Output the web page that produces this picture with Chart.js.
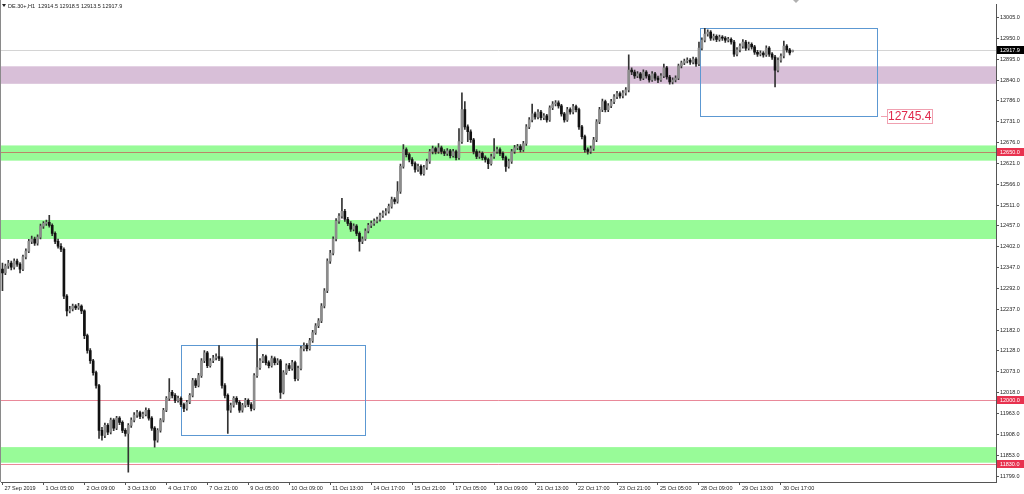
<!DOCTYPE html>
<html>
<head>
<meta charset="utf-8">
<script src="https://cdn.jsdelivr.net/npm/chart.js@4.4.1/dist/chart.umd.min.js"></script>
<style>html,body{margin:0;padding:0;background:#fff;overflow:hidden}canvas{display:block}</style>
</head>
<body>
<canvas id="chart" width="1024" height="494" style="width:1024px;height:494px"></canvas>
<script>
// DE.30+ H1, valori (una candela ogni 2 ore)
const opens = [
12343,12333,12351,12359,12348,12364,12356,12343,12375,12390,
12416,12422,12411,12427,12456,12463,12466,12458,12437,12416,
12403,12395,12272,12233,12238,12246,12241,12246,12233,12168,
12129,12102,12071,12037,11919,11906,11932,11914,11946,11925,
11951,11940,11919,11911,11932,11946,11959,11966,11956,11961,
11972,11951,11925,11893,11919,11946,11972,12003,12019,12011,
11998,12003,11987,11977,11993,12011,12050,12037,12063,12102,
12123,12089,12102,12110,12113,12108,12037,12011,11972,11985,
12003,11993,11972,11985,11998,11987,11977,12063,12084,12102,
12113,12097,12089,12108,12097,12102,12019,12071,12089,12082,
12097,12055,12082,12134,12142,12134,12155,12176,12194,12207,
12246,12286,12364,12385,12422,12469,12482,12495,12474,12463,
12448,12456,12437,12416,12422,12443,12458,12463,12469,12474,
12484,12490,12495,12508,12526,12521,12547,12613,12657,12644,
12631,12620,12605,12613,12594,12610,12626,12652,12660,12652,
12662,12652,12647,12654,12641,12652,12636,12678,12762,12717,
12704,12683,12652,12639,12647,12636,12631,12620,12639,12652,
12657,12647,12636,12613,12626,12652,12662,12665,12657,12673,
12717,12735,12751,12743,12756,12741,12746,12735,12767,12777,
12780,12772,12751,12735,12762,12756,12770,12762,12717,12691,
12657,12652,12660,12683,12730,12762,12783,12762,12772,12783,
12796,12804,12798,12806,12814,12866,12861,12851,12856,12845,
12861,12851,12840,12856,12845,12840,12851,12872,12848,12835,
12840,12845,12877,12885,12890,12892,12887,12895,12882,12924,
12945,12961,12966,12950,12955,12947,12953,12950,12945,12947,
12940,12908,12919,12929,12940,12924,12934,12927,12913,12908,
12911,12906,12924,12908,12900,12866,12892,12903,12929,12919,
12914.5];
const highs = [
12359,12356,12366,12364,12370,12369,12360,12380,12396,12421,
12430,12427,12433,12461,12468,12472,12484,12462,12441,12422,
12410,12399,12276,12245,12251,12250,12253,12249,12236,12172,
12134,12106,12075,12040,11927,11938,11937,11951,11950,11956,
11955,11944,11924,11937,11952,11966,11972,11970,11967,11978,
11976,11955,11929,11924,11950,11977,12008,12055,12024,12016,
12009,12007,11991,11998,12016,12056,12055,12069,12108,12129,
12127,12108,12116,12120,12142,12112,12042,12015,11991,12008,
12008,11997,11990,12003,12002,11992,12068,12160,12108,12119,
12117,12102,12114,12112,12108,12106,12076,12094,12095,12103,
12101,12088,12140,12149,12147,12161,12182,12200,12213,12252,
12292,12370,12392,12428,12476,12489,12529,12500,12479,12468,
12462,12460,12441,12428,12449,12463,12469,12475,12480,12490,
12496,12502,12514,12532,12531,12573,12619,12670,12662,12648,
12636,12625,12619,12617,12616,12632,12658,12666,12664,12673,
12666,12657,12660,12658,12658,12656,12712,12806,12783,12722,
12709,12687,12657,12653,12651,12641,12635,12645,12686,12664,
12662,12651,12640,12632,12658,12668,12671,12670,12679,12723,
12741,12777,12756,12762,12760,12752,12750,12772,12783,12786,
12785,12776,12755,12768,12767,12776,12774,12766,12721,12695,
12662,12666,12689,12736,12768,12790,12787,12778,12789,12802,
12810,12809,12812,12820,12906,12872,12866,12862,12860,12867,
12865,12855,12862,12860,12850,12857,12882,12876,12852,12846,
12851,12882,12890,12895,12898,12896,12900,12899,12940,12951,
12976,12972,12970,12961,12959,12958,12957,12954,12952,12951,
12944,12925,12935,12946,12944,12940,12938,12931,12918,12917,
12915,12930,12928,12912,12905,12898,12909,12942,12933,12923,
12918.5];
const lows = [
12286,12328,12345,12341,12343,12350,12333,12339,12370,12386,
12410,12405,12406,12422,12450,12458,12453,12431,12410,12398,
12389,12265,12220,12228,12233,12236,12237,12226,12160,12122,
12095,12064,12030,11898,11893,11900,11908,11910,11918,11921,
11934,11913,11904,11809,11927,11941,11953,11950,11951,11957,
11946,11919,11875,11888,11914,11941,11968,11998,12004,11992,
11993,11981,11968,11972,11989,12007,12031,12033,12058,12097,
12084,12085,12097,12104,12102,12030,12004,11911,11966,11980,
11987,11966,11967,11980,11981,11970,11973,12058,12079,12097,
12091,12083,12085,12091,12092,12003,12015,12066,12076,12077,
12049,12050,12078,12128,12128,12130,12150,12171,12189,12202,
12241,12281,12358,12380,12417,12463,12477,12468,12457,12442,
12443,12431,12390,12410,12418,12438,12452,12458,12464,12469,
12479,12485,12490,12503,12514,12516,12542,12608,12638,12625,
12614,12598,12600,12590,12590,12605,12621,12646,12646,12647,
12646,12641,12642,12635,12637,12630,12631,12673,12710,12678,
12676,12646,12633,12634,12630,12624,12607,12616,12634,12647,
12641,12630,12600,12608,12621,12647,12657,12651,12652,12668,
12712,12730,12737,12738,12735,12736,12729,12731,12762,12772,
12766,12745,12729,12731,12750,12751,12756,12710,12685,12650,
12645,12647,12655,12678,12725,12757,12756,12757,12767,12778,
12791,12792,12793,12800,12809,12854,12844,12846,12839,12841,
12845,12834,12836,12839,12833,12836,12846,12842,12829,12830,
12835,12841,12872,12880,12885,12881,12882,12876,12878,12919,
12940,12955,12944,12945,12941,12942,12944,12939,12940,12934,
12902,12903,12914,12924,12918,12919,12921,12907,12902,12903,
12900,12902,12902,12894,12822,12861,12887,12898,12913,12906,
12913.5];
const closes = [
12333,12351,12359,12348,12364,12356,12343,12375,12390,12416,
12422,12411,12427,12456,12463,12466,12458,12437,12416,12403,
12395,12272,12233,12238,12246,12241,12246,12233,12168,12129,
12102,12071,12037,11919,11906,11932,11914,11946,11925,11951,
11940,11919,11911,11932,11946,11959,11966,11956,11961,11972,
11951,11925,11893,11919,11946,11972,12003,12019,12011,11998,
12003,11987,11977,11993,12011,12050,12037,12063,12102,12123,
12089,12102,12110,12113,12108,12037,12011,11972,11985,12003,
11993,11972,11985,11998,11987,11977,12063,12084,12102,12113,
12097,12089,12108,12097,12102,12019,12071,12089,12082,12097,
12055,12082,12134,12142,12134,12155,12176,12194,12207,12246,
12286,12364,12385,12422,12469,12482,12495,12474,12463,12448,
12456,12437,12416,12422,12443,12458,12463,12469,12474,12484,
12490,12495,12508,12526,12521,12547,12613,12657,12644,12631,
12620,12605,12613,12594,12610,12626,12652,12660,12652,12662,
12652,12647,12654,12641,12652,12636,12678,12762,12717,12704,
12683,12652,12639,12647,12636,12631,12620,12639,12652,12657,
12647,12636,12613,12626,12652,12662,12665,12657,12673,12717,
12735,12751,12743,12756,12741,12746,12735,12767,12777,12780,
12772,12751,12735,12762,12756,12770,12762,12717,12691,12657,
12652,12660,12683,12730,12762,12783,12762,12772,12783,12796,
12804,12798,12806,12814,12866,12861,12851,12856,12845,12861,
12851,12840,12856,12845,12840,12851,12872,12848,12835,12840,
12845,12877,12885,12890,12892,12887,12895,12882,12924,12945,
12961,12966,12950,12955,12947,12953,12950,12945,12947,12940,
12908,12919,12929,12940,12924,12934,12927,12913,12908,12911,
12906,12924,12908,12900,12866,12892,12903,12929,12919,12911,
12917.9];

// etichette asse tempo (una ogni 14 candele)
const tickLabels = ["27 Sep 2019","1 Oct 05:00","2 Oct 09:00","3 Oct 13:00","4 Oct 17:00","7 Oct 21:00",
  "9 Oct 05:00","10 Oct 09:00","11 Oct 13:00","14 Oct 17:00","15 Oct 21:00","17 Oct 05:00","18 Oct 09:00",
  "21 Oct 13:00","22 Oct 17:00","23 Oct 21:00","25 Oct 05:00","28 Oct 09:00","29 Oct 13:00","30 Oct 17:00"];
const yTicks = [13005,12950,12895,12840,12786,12731,12676,12621,12566,12511,12457,12402,12347,12292,
  12237,12182,12128,12073,12018,11963,11908,11853,11799];

// oggetti disegnati sul grafico
const greenZones = [[12668,12628],[12472,12422],[11875,11834]];
const purpleZones = [[12876,12830]];
const redLines = [12650,12000,11830];
const boxes = [[61,124,12143.5,11908],[238.5,299,12977,12745.4]];
const bidPrice = 12917.9;
const header = "DE.30+,H1  12914.5 12918.5 12913.5 12917.9";

const SLOTS = 340;
const categories = [];
for (let i = 0; i < SLOTS; i++) categories.push(i % 14 === 0 && tickLabels[i / 14] ? tickLabels[i / 14] : "");

const FONT = '"Liberation Sans", Arial, sans-serif';

const overlay = {
  id: 'overlay',
  beforeDatasetsDraw(chart) {
    const { ctx, chartArea: a, scales: { x, y } } = chart;
    ctx.save();
    ctx.fillStyle = '#d8bfd8';
    purpleZones.forEach(z => { const t = y.getPixelForValue(z[0]); ctx.fillRect(a.left, t, a.width, y.getPixelForValue(z[1]) - t); });
    ctx.fillStyle = '#98fb98';
    greenZones.forEach(z => { const t = y.getPixelForValue(z[0]); ctx.fillRect(a.left, t, a.width, y.getPixelForValue(z[1]) - t); });
    ctx.lineWidth = 1;
    ctx.strokeStyle = '#d4d4d4';
    let py = Math.round(y.getPixelForValue(bidPrice)) + 0.5;
    ctx.beginPath(); ctx.moveTo(a.left, py); ctx.lineTo(a.right, py); ctx.stroke();
    ctx.strokeStyle = 'rgba(215,40,70,0.55)';
    redLines.forEach(v => {
      const p = Math.round(y.getPixelForValue(v)) + 0.5;
      ctx.beginPath(); ctx.moveTo(a.left, p); ctx.lineTo(a.right, p); ctx.stroke();
    });
    ctx.strokeStyle = '#5c98d2';
    boxes.forEach(b => {
      const l = Math.round(x.getPixelForValue(b[0])) + 0.5, r = Math.round(x.getPixelForValue(b[1])) + 0.5;
      const t = Math.round(y.getPixelForValue(b[2])) + 0.5, btm = Math.round(y.getPixelForValue(b[3])) + 0.5;
      ctx.strokeRect(l, t, r - l, btm - t);
    });
    ctx.restore();
  },
  afterDraw(chart) {
    const { ctx, chartArea: a, scales: { x, y } } = chart;
    ctx.save();
    // bordo sinistro
    ctx.strokeStyle = '#8a8a8a';
    ctx.lineWidth = 1;
    ctx.beginPath(); ctx.moveTo(0.5, 0); ctx.lineTo(0.5, a.bottom); ctx.stroke();
    // etichette prezzo sull'asse
    ctx.font = '5.5px ' + FONT;
    ctx.textBaseline = 'middle';
    ctx.textAlign = 'left';
    const tag = (v, bg) => {
      const p = Math.round(y.getPixelForValue(v));
      ctx.fillStyle = bg;
      ctx.fillRect(a.right + 1, p - 4, 27, 8);
      ctx.fillStyle = '#fff';
      ctx.fillText(v.toFixed(1), a.right + 4, p + 0.5);
    };
    redLines.forEach(v => tag(v, '#e8324f'));
    tag(bidPrice, '#000');
    // etichetta del rettangolo
    const b = boxes[1];
    const bx = Math.round(x.getPixelForValue(b[1]));
    const by = Math.round(y.getPixelForValue(b[3]));
    ctx.strokeStyle = '#f0a0b0';
    ctx.beginPath(); ctx.moveTo(bx + 4, by + 0.5); ctx.lineTo(bx + 10, by + 0.5); ctx.stroke();
    ctx.fillStyle = '#fff';
    ctx.fillRect(bx + 10, by - 7, 46, 15);
    ctx.strokeRect(bx + 10.5, by - 6.5, 45, 14);
    ctx.fillStyle = '#e0284a';
    ctx.font = '12px ' + FONT;
    ctx.fillText(b[3].toFixed(1), bx + 11, by + 1);
    // intestazione
    ctx.fillStyle = '#222';
    ctx.beginPath(); ctx.moveTo(2, 4); ctx.lineTo(6, 4); ctx.lineTo(4, 7); ctx.closePath(); ctx.fill();
    ctx.font = '5.5px ' + FONT;
    ctx.fillText(header, 8, 6);
    // marcatore spostamento grafico
    ctx.fillStyle = '#b0b0b0';
    const sx = Math.round(x.getPixelForValue(closes.length));
    ctx.beginPath(); ctx.moveTo(sx - 3, 0); ctx.lineTo(sx + 3, 0); ctx.lineTo(sx, 3); ctx.closePath(); ctx.fill();
    ctx.restore();
  }
};

new Chart(document.getElementById('chart'), {
  type: 'bar',
  data: {
    labels: categories,
    datasets: [
      {
        data: opens.map((o, i) => [o, closes[i]]),
        backgroundColor: opens.map((o, i) => closes[i] >= o ? '#8c8c8c' : '#111'),
        barThickness: 2,
        minBarLength: 1,
        grouped: false
      },
      {
        data: lows.map((l, i) => [l, highs[i]]),
        backgroundColor: '#333',
        barThickness: 1,
        grouped: false
      }
    ]
  },
  options: {
    responsive: false,
    animation: false,
    devicePixelRatio: 1,
    layout: { padding: { left: 1, top: 2, right: 0, bottom: 0 } },
    plugins: { legend: { display: false }, tooltip: { enabled: false } },
    scales: {
      x: {
        grid: {
          drawOnChartArea: false, offset: false, tickLength: 3,
          color: c => (c.tick && c.tick.label) ? '#555' : 'rgba(0,0,0,0)'
        },
        border: { color: '#555' },
        ticks: {
          autoSkip: false, maxRotation: 0, minRotation: 0, align: 'start', labelOffset: 2, padding: 0,
          color: '#222', font: { size: 5.5, family: FONT },
          callback: (v, i) => categories[i]
        },
        afterFit: s => { s.height = 12; }
      },
      y: {
        position: 'right',
        min: 11783.3,
        max: 13039.0,
        grid: { drawOnChartArea: false, tickLength: 3, color: '#555' },
        border: { color: '#555' },
        ticks: { color: '#222', padding: 1, font: { size: 5.5, family: FONT }, callback: v => v.toFixed(1) },
        afterBuildTicks: s => { s.ticks = yTicks.map(v => ({ value: v })); },
        afterFit: s => { s.width = 28; }
      }
    }
  },
  plugins: [overlay]
});
</script>
</body>
</html>
